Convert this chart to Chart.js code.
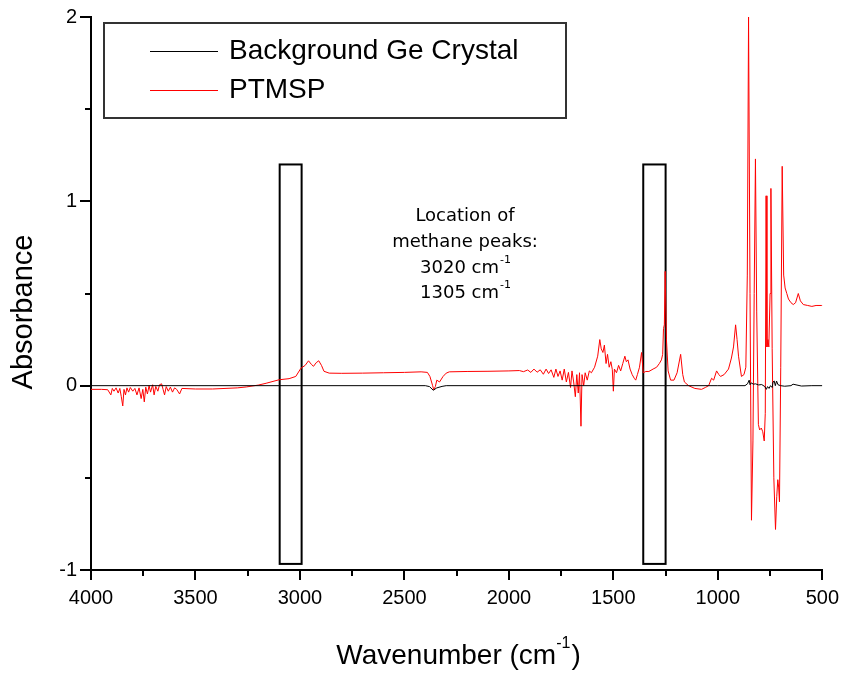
<!DOCTYPE html>
<html>
<head>
<meta charset="utf-8">
<title>PTMSP spectrum</title>
<script src="https://cdn.jsdelivr.net/npm/chart.js@4.4.1/dist/chart.umd.min.js"></script>
<style>
  html, body { margin: 0; padding: 0; background: #fff; }
  #wrap { width: 845px; height: 675px; }
</style>
</head>
<body>
<div id="wrap"><canvas id="spectrum" width="845" height="675"></canvas></div>
<script>
// axis ticks
const xTicks = [4000, 3500, 3000, 2500, 2000, 1500, 1000, 500];
const yTicks = [-1, 0, 1, 2];
const seriesNames = ["Background Ge Crystal", "PTMSP"];

// Background Ge Crystal
const bgWave = [4000, 3000, 2400, 2380, 2362, 2345, 2320, 2300, 1000, 870, 858, 850, 846, 840, 830, 820, 805, 790, 775, 768, 762, 755, 748, 740, 736, 730, 725, 719, 712, 700, 680, 650, 640, 600, 550, 500];
const bgAbs  = [0, 0, 0, -0.005, -0.025, -0.012, -0.004, 0, 0, 0, 0.01, 0.03, 0.005, 0.015, 0.008, 0.01, 0.004, 0.006, -0.005, -0.02, -0.005, -0.015, 0.0, -0.01, 0.02, 0.025, 0.0, 0.025, 0.005, 0, -0.003, 0, 0.008, -0.002, 0, 0];

// PTMSP
const ptWave = [4000, 3950, 3920, 3905, 3898, 3890, 3880, 3870, 3862, 3855, 3848, 3842, 3835, 3828, 3820, 3812, 3800, 3790, 3780, 3770, 3760, 3752, 3745, 3738, 3730, 3722, 3715, 3705, 3698, 3690, 3680, 3672, 3662, 3655, 3648, 3640, 3630, 3620, 3610, 3600, 3590, 3576, 3565, 3500, 3418, 3300, 3257, 3200, 3162, 3100, 3052, 3020, 2995, 2975, 2959, 2945, 2935, 2922, 2910, 2897, 2885, 2860, 2800, 2700, 2600, 2500, 2420, 2390, 2378, 2365, 2360, 2352, 2345, 2332, 2315, 2300, 2285, 2200, 2100, 2000, 1950,
  1930, 1910, 1895, 1880, 1865, 1850, 1835, 1822, 1810, 1798, 1785, 1775, 1765, 1755, 1745, 1735, 1725, 1715, 1705, 1698, 1690, 1682, 1675, 1668, 1662, 1655, 1650, 1642, 1635, 1625, 1615, 1605, 1590, 1575, 1565, 1558, 1550, 1543, 1535, 1528, 1520, 1512, 1505, 1500, 1495, 1485, 1475, 1465, 1455, 1445, 1438, 1430, 1420, 1410, 1400, 1393, 1385, 1375, 1365, 1357, 1345, 1330, 1310, 1293, 1280, 1270, 1264, 1260, 1256, 1252, 1246, 1238, 1226, 1210, 1195, 1178, 1168, 1160, 1140, 1110, 1078, 1060, 1044, 1030, 1020, 1006, 995, 987, 970, 949, 935, 925, 915, 908, 901, 887, 875, 866, 859, 853, 846, 839, 832, 826, 820, 814, 806, 800, 792, 785, 778, 773, 769, 765, 760, 756, 750, 746, 740, 732, 724, 718, 713, 709, 705, 699, 692, 685, 678, 670, 662, 650, 639, 628, 615, 605, 591, 570, 550, 530, 505, 500];
const ptAbs  = [-0.02, -0.02, -0.022, -0.05, -0.015, -0.03, -0.012, -0.04, -0.015, -0.06, -0.11, -0.02, -0.05, -0.012, -0.035, -0.01, -0.03, -0.015, -0.05, -0.012, -0.07, -0.02, -0.088, -0.008, -0.045, 0.0, -0.035, 0.005, -0.05, -0.004, -0.03, 0.005, 0.01, -0.02, -0.05, -0.005, -0.03, -0.008, -0.035, -0.012, -0.02, -0.045, -0.015, -0.018, -0.018, -0.012, -0.007, 0.003, 0.013, 0.032, 0.038, 0.05, 0.095, 0.11, 0.135, 0.115, 0.105, 0.125, 0.135, 0.11, 0.078, 0.068, 0.067, 0.068, 0.07, 0.072, 0.075, 0.072, 0.05, 0.0, -0.022, -0.005, 0.03, 0.02, 0.05, 0.068, 0.075, 0.077, 0.078, 0.08, 0.082,
  0.076, 0.085, 0.072, 0.09, 0.073, 0.086, 0.062, 0.09, 0.066, 0.086, 0.045, 0.09, 0.05, 0.08, 0.03, 0.09, 0.02, 0.072, -0.01, 0.08, 0.02, -0.06, 0.06, -0.04, 0.07, -0.22, 0.06, 0.0, 0.07, 0.03, 0.08, 0.07, 0.10, 0.16, 0.25, 0.20, 0.18, 0.22, 0.12, 0.17, 0.10, 0.13, 0.087, -0.03, 0.09, 0.07, 0.11, 0.08, 0.12, 0.16, 0.13, 0.14, 0.09, 0.06, 0.04, 0.03, 0.06, 0.10, 0.18, 0.07, 0.077, 0.077, 0.09, 0.10, 0.12, 0.14, 0.17, 0.31, 0.33, 0.62, 0.25, 0.08, 0.03, 0.03, 0.07, 0.17, 0.06, 0.02, 0.0, -0.015, -0.02, -0.01, 0.0, 0.04, 0.03, 0.08, 0.06, 0.05, 0.06, 0.09, 0.15, 0.21, 0.33, 0.25, 0.16, 0.05, 0.06, 0.1, 0.6, 2.0, 0.5, -0.73, -0.3, 0.5, 1.23, 0.4, -0.21, -0.24, -0.23, -0.25, -0.30, -0.15, 1.03, 0.21, 0.25, 0.21, 0.5, 1.07, 0.2, -0.5, -0.78, -0.6, -0.51, -0.55, -0.63, 0.1, 1.19, 0.6, 0.53, 0.5, 0.47, 0.45, 0.44, 0.45, 0.50, 0.46, 0.44, 0.435, 0.43, 0.435, 0.435, 0.435];

function toPoints(xs, ys) {
    return xs.map(function (x, i) { return { x: x, y: ys[i] }; });
}

const BASE = '"Liberation Sans", Arial, sans-serif';

// ticks and methane boxes go under the spectra
const underlay = {
    id: "underlay",
    beforeDatasetsDraw(chart) {
        const ctx = chart.ctx;
        const xs = chart.scales.x, ys = chart.scales.y;
        const area = chart.chartArea;
        ctx.save();
        ctx.strokeStyle = "#000";
        ctx.lineWidth = 2;
        for (let v = 500; v <= 4000; v += 250) {
            const px = Math.round(xs.getPixelForValue(v));
            const len = (v % 500 === 0) ? 10 : 6;
            ctx.beginPath();
            ctx.moveTo(px, area.bottom);
            ctx.lineTo(px, area.bottom + len);
            ctx.stroke();
        }
        for (let v = -1; v <= 2; v += 0.5) {
            const py = Math.round(ys.getPixelForValue(v));
            const len = Number.isInteger(v) ? 11 : 6;
            ctx.beginPath();
            ctx.moveTo(area.left, py);
            ctx.lineTo(area.left - len, py);
            ctx.stroke();
        }
        [[3097, 2992], [1357, 1250]].forEach(function (b) {
            const x1 = xs.getPixelForValue(b[0]);
            const x2 = xs.getPixelForValue(b[1]);
            const y1 = ys.getPixelForValue(1.2);
            const y2 = ys.getPixelForValue(-0.967);
            ctx.strokeRect(x1, y1, x2 - x1, y2 - y1);
        });
        ctx.restore();
    }
};

// annotation, legend, axis titles
const overlay = {
    id: "overlay",
    afterDatasetsDraw(chart) {
        const ctx = chart.ctx;
        ctx.save();

        ctx.fillStyle = "#000";
        ctx.textAlign = "center";
        ctx.textBaseline = "middle";
        ctx.font = '18px "DejaVu Sans", sans-serif';
        ctx.fillText("Location of", 465, 216);
        ctx.fillText("methane peaks:", 465, 242);
        ["3020 cm", "1305 cm"].forEach(function (t, i) {
            const y = 268 + i * 25;
            ctx.font = '18px "DejaVu Sans", sans-serif';
            const w = ctx.measureText(t).width;
            ctx.font = '11px "DejaVu Sans", sans-serif';
            const sw = ctx.measureText("-1").width;
            const x0 = 465 - (w + sw) / 2;
            ctx.textAlign = "left";
            ctx.font = '18px "DejaVu Sans", sans-serif';
            ctx.fillText(t, x0, y);
            ctx.font = '11px "DejaVu Sans", sans-serif';
            ctx.fillText("-1", x0 + w + 1, y - 8);
            ctx.textAlign = "center";
        });

        // legend
        ctx.fillStyle = "#fff";
        ctx.fillRect(104, 23, 462, 95);
        ctx.strokeStyle = "#333";
        ctx.lineWidth = 2;
        ctx.strokeRect(104, 23, 462, 95);
        const colors = ["#000", "#ff0000"];
        seriesNames.forEach(function (name, i) {
            const y = 51 + i * 39;
            ctx.strokeStyle = colors[i];
            ctx.lineWidth = 1;
            ctx.beginPath();
            ctx.moveTo(150, y + 0.5);
            ctx.lineTo(218, y + 0.5);
            ctx.stroke();
            ctx.fillStyle = "#000";
            ctx.textAlign = "left";
            ctx.textBaseline = "middle";
            ctx.font = "28px " + BASE;
            ctx.fillText(name, 229, y);
        });

        // axis titles
        ctx.font = "29px " + BASE;
        ctx.textAlign = "center";
        ctx.save();
        ctx.translate(24, 312);
        ctx.rotate(-Math.PI / 2);
        ctx.fillText("Absorbance", 0, 0);
        ctx.restore();

        const main = "Wavenumber (cm";
        ctx.font = "28px " + BASE;
        const mw = ctx.measureText(main).width;
        const pw = ctx.measureText(")").width;
        ctx.font = "16px " + BASE;
        const sw = ctx.measureText("-1").width;
        const x0 = 458 - (mw + sw + pw) / 2;
        ctx.textAlign = "left";
        ctx.font = "28px " + BASE;
        ctx.fillText(main, x0, 656);
        ctx.fillText(")", x0 + mw + sw + 1, 656);
        ctx.font = "16px " + BASE;
        ctx.fillText("-1", x0 + mw, 644);

        ctx.restore();
    }
};

new Chart(document.getElementById("spectrum"), {
    type: "line",
    data: {
        datasets: [
            {
                label: seriesNames[0],
                data: toPoints(bgWave, bgAbs),
                borderColor: "#000000",
                borderWidth: 1,
                pointRadius: 0,
                tension: 0
            },
            {
                label: seriesNames[1],
                data: toPoints(ptWave, ptAbs),
                borderColor: "#ff0000",
                borderWidth: 1,
                pointRadius: 0,
                tension: 0
            }
        ]
    },
    options: {
        responsive: false,
        animation: false,
        layout: { padding: { top: 17, right: 20, left: 0, bottom: 0 } },
        plugins: {
            legend: { display: false },
            tooltip: { enabled: false }
        },
        scales: {
            x: {
                type: "linear",
                reverse: true,
                min: 500,
                max: 4000,
                afterFit: function (scale) { scale.height = 105; },
                afterBuildTicks: function (scale) {
                    scale.ticks = xTicks.map(function (v) { return { value: v }; });
                },
                border: { display: true, color: "#000", width: 2 },
                grid: { drawOnChartArea: false, color: "rgba(0,0,0,0)", tickLength: 10 },
                ticks: {
                    autoSkip: false,
                    maxRotation: 0,
                    padding: 6,
                    color: "#000",
                    font: { family: BASE, size: 20 },
                    callback: function (v) { return String(v); }
                }
            },
            y: {
                min: -1,
                max: 2,
                afterFit: function (scale) { scale.width = 91; },
                afterBuildTicks: function (scale) {
                    scale.ticks = yTicks.map(function (v) { return { value: v }; });
                },
                border: { display: true, color: "#000", width: 2 },
                grid: { drawOnChartArea: false, color: "rgba(0,0,0,0)", tickLength: 11 },
                ticks: {
                    padding: 3,
                    color: "#000",
                    font: { family: BASE, size: 20 },
                    callback: function (v) { return String(v); }
                }
            }
        }
    },
    plugins: [underlay, overlay]
});
</script>
</body>
</html>
